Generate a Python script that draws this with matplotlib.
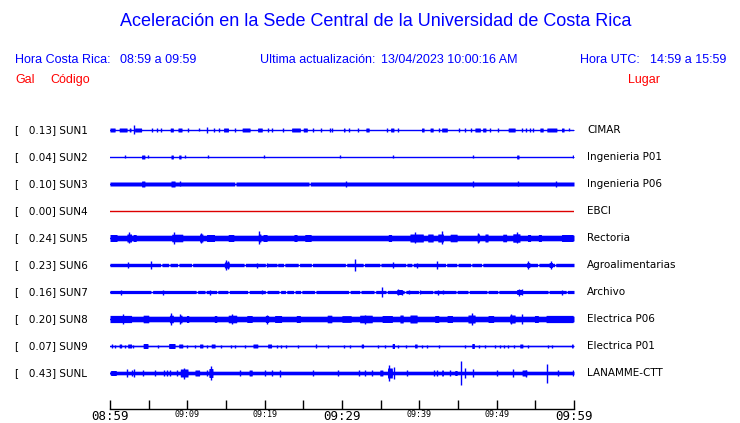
# Aceleracion en la Sede Central UCR - registro de 1 hora, 10 estaciones
import numpy as np
import matplotlib
matplotlib.use('Agg')
import matplotlib.pyplot as plt

# ---- data -------------------------------------------------------------
stations = ['SUN1', 'SUN2', 'SUN3', 'SUN4', 'SUN5', 'SUN6', 'SUN7', 'SUN8', 'SUN9', 'SUNL']
peaks = [0.13, 0.04, 0.10, 0.00, 0.24, 0.23, 0.16, 0.20, 0.07, 0.43]
places = ['CIMAR', 'Ingenieria P01', 'Ingenieria P06', 'EBCI', 'Rectoria',
          'Agroalimentarias', 'Archivo', 'Electrica P06', 'Electrica P01', 'LANAMME-CTT']
tick_minutes = list(range(0, 61, 5))
tick_labels = ['08:59', '', '09:09', '', '09:19', '', '09:29', '', '09:39', '', '09:49', '', '09:59']

# trace envelopes: minutes after 08:59, amplitude in
# reference pixels (27 px between traces)
base_amp = [0.5, 0.5, 2.0, 0.0, 2.8, 1.7, 1.6, 2.8, 0.65, 1.8]

bursts_sun1 = [(0.0, 0.65, 2), (1.2, 2.2, 2), (2.5, 2.7, 2), (3.2, 4.1, 2), (7.8, 8.2, 2),
               (8.8, 9.3, 2), (14.7, 15.3, 2), (17.1, 18.1, 2), (19.1, 19.7, 2), (23.5, 24.6, 2),
               (25.0, 25.5, 2), (30.2, 30.4, 2), (33.1, 33.5, 2), (36.3, 36.7, 2), (40.3, 40.6, 2),
               (41.4, 41.8, 2), (42.9, 43.6, 2), (47.2, 47.9, 2), (48.2, 48.6, 2), (51.5, 52.4, 2),
               (55.6, 56.0, 2), (56.5, 57.8, 2), (58.4, 58.7, 2)]
spikes_sun1 = [(3.1, 4.5), (5.4, 2), (6.1, 2), (6.6, 2), (10.1, 2), (11.5, 1.5), (12.5, 3),
               (13.4, 2), (14.1, 2), (16.2, 2), (20.4, 2), (21.0, 2), (22.4, 2), (26.2, 2),
               (27.3, 2), (28.5, 2), (28.7, 2), (30.9, 2), (32.1, 2), (35.8, 2), (37.2, 2),
               (42.5, 2), (45.1, 2), (45.9, 2), (46.7, 2), (49.1, 2), (50.2, 2), (53.3, 2),
               (53.8, 2), (54.3, 2), (54.7, 2), (59.4, 1.5)]

bursts_sun2 = [(4.1, 4.5, 2), (7.9, 8.2, 2), (8.9, 9.2, 2), (52.6, 52.9, 2)]
spikes_sun2 = [(2.0, 1.5), (4.9, 1.5), (9.7, 1.5), (12.7, 1.5), (19.9, 1.5), (29.7, 1.5),
               (36.6, 1.5), (46.9, 1.5), (59.9, 1.5)]

bursts_sun3 = [(4.1, 4.5, 3), (7.9, 8.4, 3)]
spikes_sun3 = [(9.1, 2.5), (30.5, 3), (46.9, 3), (52.8, 2.5), (57.7, 3)]
quiet_sun3 = [(16.15, 16.28), (25.75, 25.88)]

bursts_sun5 = [(0.0, 0.9, 3.5), (2.2, 2.8, 4), (3.0, 3.4, 3.5), (8.0, 9.4, 3.8), (11.6, 12.0, 4),
               (12.5, 13.5, 3.5), (15.3, 16.0, 3.5), (19.2, 19.5, 4), (19.8, 20.3, 3.5),
               (23.8, 24.2, 3.5), (25.2, 26.0, 3.5), (36.0, 36.4, 3.5),
               (38.8, 40.5, 4), (41.1, 41.8, 4), (42.4, 43.1, 4), (44.0, 44.9, 3.8),
               (47.5, 47.8, 4), (48.5, 48.9, 4), (50.8, 51.3, 3.8), (52.1, 53.0, 4.2),
               (54.0, 54.4, 3.5), (55.4, 55.8, 3.5), (58.4, 59.9, 3.5)]
spikes_sun5 = [(2.5, 5.5), (8.3, 6), (11.8, 5), (19.3, 6.5), (39.5, 5.5), (42.9, 6.5),
               (47.6, 5), (52.6, 5.5)]

bursts_sun6 = [(14.8, 15.4, 3), (53.9, 54.3, 2.5), (56.8, 57.2, 2.5)]
spikes_sun6 = [(2.3, 3), (5.3, 3.5), (15.0, 4.5), (15.3, 3.5), (19.0, 2.5), (20.3, 2),
               (31.7, 6.5), (36.6, 3), (39.7, 2.5), (42.3, 3.5), (54.1, 3.5), (57.0, 3.5)]
quiet_sun6 = [(6.55, 6.7), (7.6, 7.75), (8.75, 8.9), (10.55, 10.7), (17.35, 17.5),
              (20.1, 20.25), (21.6, 21.7), (22.45, 22.6), (24.35, 24.5), (26.05, 26.2),
              (30.45, 30.6), (32.75, 32.9), (34.9, 35.05), (38.25, 38.4), (39.05, 39.2),
              (43.4, 43.55), (44.85, 45.0), (46.65, 46.8), (48.05, 48.2), (55.3, 55.45),
              (57.5, 57.65)]

bursts_sun7 = [(37.1, 37.8, 2.5), (52.6, 53.3, 2.5)]
spikes_sun7 = [(1.4, 2.5), (6.9, 2.5), (12.9, 2.5), (19.7, 2), (35.2, 4.5), (37.2, 3),
               (37.8, 2.5), (38.7, 2), (40.1, 2), (42.4, 2.5), (43.1, 2), (52.9, 3.5),
               (53.3, 3), (58.4, 2.5)]
quiet_sun7 = [(5.3, 5.5), (11.15, 11.35), (12.3, 12.45), (13.8, 13.95), (15.25, 15.45),
              (17.8, 18.0), (20.1, 20.3), (21.85, 22.05), (22.7, 22.85), (23.75, 23.95),
              (24.65, 24.8), (26.45, 26.65), (30.85, 31.05), (32.3, 32.45), (34.15, 34.35),
              (35.7, 35.85), (38.05, 38.25), (39.9, 40.05), (41.75, 41.9), (44.75, 44.9),
              (46.3, 46.45), (48.75, 48.9), (50.15, 50.3), (56.65, 56.8), (59.0, 59.15)]

bursts_sun8 = [(0.0, 2.8, 3.6), (4.3, 5.0, 3.8), (7.7, 8.2, 3.8), (9.0, 9.3, 3.8), (9.9, 10.2, 3.5),
               (13.5, 13.8, 3.5), (15.3, 16.4, 3.8), (17.7, 18.4, 3.5), (20.1, 20.5, 3.5),
               (21.3, 22.2, 3.5), (24.1, 24.6, 3.5), (28.1, 28.7, 3.8), (30.0, 31.2, 3.4),
               (32.3, 33.9, 3.8), (35.2, 36.5, 3.5), (37.5, 37.9, 4), (38.8, 39.7, 4),
               (42.0, 42.5, 3.5), (43.6, 44.3, 3.5), (46.3, 47.2, 4), (48.9, 49.6, 3.5),
               (51.7, 52.4, 4), (54.9, 55.4, 3.5), (56.4, 59.9, 3.6)]
spikes_sun8 = [(1.7, 5.5), (7.9, 6), (9.1, 5), (15.8, 5), (20.3, 4.5), (33.0, 4.5),
               (46.8, 6), (51.9, 5), (53.3, 5.5)]

bursts_sun9 = [(1.2, 1.5, 2), (2.3, 2.8, 2), (4.3, 4.9, 2.5), (7.6, 8.4, 2.5), (8.9, 9.4, 2),
               (11.6, 12.0, 2), (13.1, 13.6, 2), (18.5, 19.1, 2), (20.4, 20.9, 2),
               (32.5, 32.8, 2), (36.5, 36.8, 2.5), (39.4, 39.7, 2), (46.8, 47.1, 2.5),
               (53.0, 53.4, 2), (59.7, 59.9, 2)]
spikes_sun9 = [(0.3, 2), (0.7, 1.5), (1.9, 1.5), (3.0, 1.5), (6.2, 1.5), (10.0, 1.5),
               (11.0, 1.5), (12.5, 1.5), (14.3, 1.5), (15.6, 1.5), (16.2, 1.5), (17.5, 1.5),
               (21.6, 1.5), (22.1, 1.5), (22.7, 1.5), (24.3, 1.5), (26.6, 2), (28.2, 1.5),
               (30.2, 1.5), (31.0, 1.5), (34.6, 1.5), (35.5, 1.5), (37.2, 1.5), (38.3, 1.5),
               (40.3, 1.5), (41.0, 1.5), (42.5, 1.5), (45.9, 1.5), (47.7, 1.5), (48.5, 1.5),
               (49.8, 1.5), (50.4, 1.5), (51.0, 1.5), (51.5, 1.5), (52.2, 1.5), (54.1, 1.5),
               (56.7, 1.5), (57.1, 1.5)]

bursts_sunl = [(0.1, 0.8, 2.5), (9.1, 10.1, 4), (11.0, 11.6, 3), (12.8, 13.3, 4.5),
               (18.0, 18.4, 3), (34.9, 35.3, 3), (35.9, 36.5, 5), (42.9, 43.1, 3),
               (44.6, 44.9, 2.5), (53.3, 53.9, 3)]
spikes_sunl = [(2.2, 4.2), (2.8, 2.5), (3.1, 4), (4.3, 2.5), (5.8, 3), (7.0, 2.5), (7.4, 3),
               (7.8, 3), (8.6, 2.5), (9.6, 5.5), (12.5, 3), (13.1, 7), (16.8, 2.5), (20.0, 2.5),
               (20.9, 2.5), (22.0, 3.5), (26.2, 3), (29.5, 2.5), (32.2, 3), (33.0, 2.5),
               (33.9, 2.5), (36.1, 8), (36.7, 6), (38.4, 2.5), (41.9, 2.5), (42.3, 2.5),
               (44.0, 2.5), (45.4, 12), (45.9, 5), (46.9, 4), (50.0, 3), (52.1, 4),
               (53.8, 3.5), (56.5, 9.5), (57.9, 2.5), (59.9, 2.5)]

bursts = [bursts_sun1, bursts_sun2, bursts_sun3, [], bursts_sun5, bursts_sun6,
          bursts_sun7, bursts_sun8, bursts_sun9, bursts_sunl]
spikes = [spikes_sun1, spikes_sun2, spikes_sun3, [], spikes_sun5, spikes_sun6,
          spikes_sun7, spikes_sun8, spikes_sun9, spikes_sunl]
quiet = [[], [], quiet_sun3, [], [], quiet_sun6, quiet_sun7, [], [], []]

# ---- figure -----------------------------------------------------------
W, H = 740, 423
fig = plt.figure(figsize=(W / 100, H / 100), dpi=100)
blue = '#0000ff'
red = '#ff0000'
hdr_font = 'Liberation Sans'
lbl_font = 'DejaVu Sans'

px = 1.0 / 27  # reference pixel -> trace units

# axes: x 110..574 px, trace i at y = 130 + 27 i px, axis line at y = 409 px
top_px, bot_px = 116.5, 409
ax = fig.add_axes([110 / W, 1 - bot_px / H, 464 / W, (bot_px - top_px) / H])
ax.set_xlim(0, 60)
ax.set_ylim(-(bot_px - 130) / 27, (130 - top_px) / 27)

t = np.linspace(0, 60, 2401)
for i, name in enumerate(stations):
    y0 = -i
    if name == 'SUN4':
        ax.plot([0, 60], [y0, y0], color='#dd0000', lw=1)
        continue
    env = np.full_like(t, base_amp[i])
    for a, b in quiet[i]:
        env[(t >= a) & (t <= b)] = 0.5
    for a, b, amp in bursts[i]:
        m = (t >= a) & (t <= b)
        env[m] = np.maximum(env[m], amp)
    ax.fill_between(t, y0 - env * px, y0 + env * px, color=blue, lw=0)
    ax.plot([0, 60], [y0, y0], color=blue, lw=1)
    if spikes[i]:
        st = [s[0] for s in spikes[i]]
        sa = np.array([s[1] for s in spikes[i]]) * px
        ax.vlines(st, y0 - sa, y0 + sa, color=blue, lw=1)

for side in ['top', 'right', 'left']:
    ax.spines[side].set_visible(False)
ax.spines['bottom'].set_linewidth(1)
ax.set_yticks([])
ax.set_xticks(tick_minutes)
ax.set_xticklabels(tick_labels, family='DejaVu Sans Mono')
ax.tick_params(axis='x', direction='in', length=6.5, width=1, pad=1, colors='black')
for k, lab in enumerate(ax.get_xticklabels()):
    lab.set_fontsize(9 if tick_labels[k] in ('08:59', '09:29', '09:59') else 6)

# station labels
for i, name in enumerate(stations):
    yf = 1 - (130 + 27 * i) / H
    fig.text(15 / W, yf, '[   %.2f] %s' % (peaks[i], name), family=lbl_font,
             fontsize=7.5, va='center', ha='left', color='black')
    fig.text(587 / W, yf, places[i], family=lbl_font, fontsize=7.5,
             va='center', ha='left', color='black')

# header
fig.text(376 / W, 1 - 22 / H, 'Aceleración en la Sede Central de la Universidad de Costa Rica',
         family=hdr_font, fontsize=13, color=blue, ha='center', va='center')
row1 = 1 - 60 / H
fig.text(15 / W, row1, 'Hora Costa Rica:', family=hdr_font, fontsize=9, color=blue, va='center')
fig.text(120 / W, row1, '08:59 a 09:59', family=hdr_font, fontsize=9, color=blue, va='center')
fig.text(260 / W, row1, 'Ultima actualización:', family=hdr_font, fontsize=9, color=blue, va='center')
fig.text(381 / W, row1, '13/04/2023 10:00:16 AM', family=hdr_font, fontsize=9, color=blue, va='center')
fig.text(580 / W, row1, 'Hora UTC:', family=hdr_font, fontsize=9, color=blue, va='center')
fig.text(650 / W, row1, '14:59 a 15:59', family=hdr_font, fontsize=9, color=blue, va='center')
row2 = 1 - 80 / H
fig.text(15 / W, row2, 'Gal', family=hdr_font, fontsize=9, color=red, va='center')
fig.text(50 / W, row2, 'Código', family=hdr_font, fontsize=9, color=red, va='center')
fig.text(628 / W, row2, 'Lugar', family=hdr_font, fontsize=9, color=red, va='center')

fig.savefig('out.png', dpi=100)
